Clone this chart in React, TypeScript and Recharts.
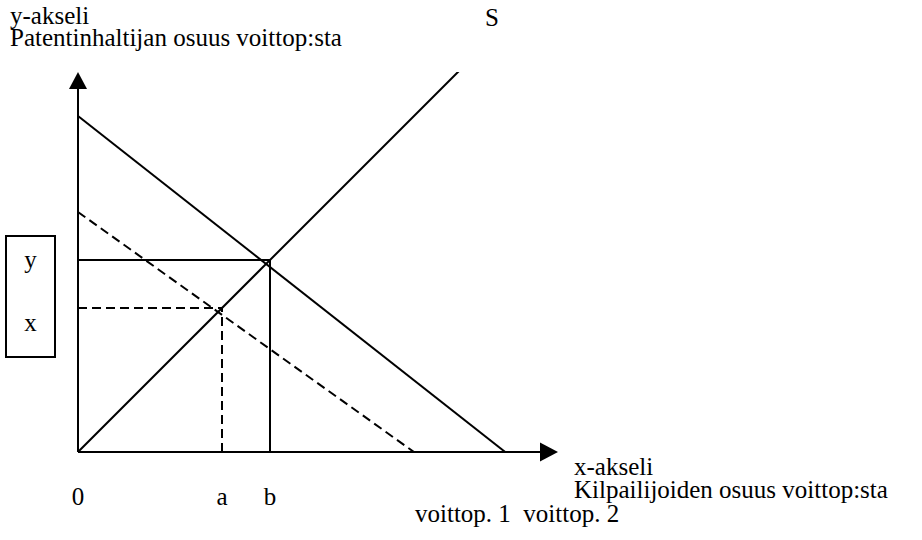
import React from 'react';
import { LineChart, Line, XAxis, YAxis, ReferenceLine, ReferenceDot } from 'recharts';

const FONT = '"Liberation Serif", "Times New Roman", serif';
const FS = 25;

// x-akselin merkinnät
const xTicks = [0, 30, 40];
const xTickLabels = ['0', 'a', 'b'];

// S-käyrä (45 astetta)
const sX = [0, 80];
const sY = [0, 80];
// voittop. 2 (yhtenäinen)
const v2X = [0, 89];
const v2Y = [70, 0];
// voittop. 1 (katkoviiva)
const v1X = [0, 70];
const v1Y = [50, 0];
// tasapainopisteet
const pointA = 30;
const pointB = 40;

const toRows = (xs: number[], ys: number[]) => xs.map((x, i) => ({ x, y: ys[i] }));

const W = 922;
const H = 540;

const ArrowRight = (props: any) => {
  const { cx, cy } = props;
  return <polygon points={`${cx},${cy} ${cx - 18},${cy - 9.5} ${cx - 18},${cy + 9.5}`} fill="#000" />;
};

const ArrowUp = (props: any) => {
  const { cx, cy } = props;
  return <polygon points={`${cx},${cy} ${cx - 9},${cy + 17} ${cx + 9},${cy + 17}`} fill="#000" />;
};

export default function App() {
  const textStyle = { fontFamily: FONT, fontSize: FS, fill: '#000' };
  return (
    <div style={{ position: 'absolute', left: 0, top: 0, width: W, height: H, background: '#fff' }}>
      <LineChart width={W} height={H} margin={{ top: 72, right: 364, left: 78, bottom: 0 }}>
        <XAxis
          type="number"
          dataKey="x"
          domain={[0, 100]}
          ticks={xTicks}
          tickFormatter={(v: number) => xTickLabels[xTicks.indexOf(v)]}
          height={88}
          axisLine={false}
          tickLine={false}
          tickMargin={29}
          tick={{ fontFamily: FONT, fontSize: FS, fill: '#000' }}
          allowDataOverflow
          interval={0}
        />
        <YAxis type="number" domain={[0, 380 / 4.8]} hide allowDataOverflow />

        {/* akselit */}
        <ReferenceLine segment={[{ x: 0, y: 0 }, { x: 96.25, y: 0 }]} stroke="#000" strokeWidth={2} ifOverflow="visible" />
        <ReferenceLine segment={[{ x: 0, y: 0 }, { x: 0, y: 75.6 }]} stroke="#000" strokeWidth={2} ifOverflow="visible" />
        <ReferenceDot x={100} y={0} r={1} shape={ArrowRight} ifOverflow="visible" />
        <ReferenceDot x={0} y={380 / 4.8} r={1} shape={ArrowUp} ifOverflow="visible" />

        {/* apuviivat */}
        <ReferenceLine segment={[{ x: 0, y: pointB }, { x: pointB, y: pointB }]} stroke="#000" strokeWidth={2} ifOverflow="visible" />
        <ReferenceLine segment={[{ x: pointB, y: 0 }, { x: pointB, y: pointB }]} stroke="#000" strokeWidth={2} ifOverflow="visible" />
        <ReferenceLine segment={[{ x: 0, y: pointA }, { x: pointA, y: pointA }]} stroke="#000" strokeWidth={2} strokeDasharray="9 5" ifOverflow="visible" />
        <ReferenceLine segment={[{ x: pointA, y: 0 }, { x: pointA, y: pointA }]} stroke="#000" strokeWidth={2} strokeDasharray="9 5" ifOverflow="visible" />

        <Line data={toRows(sX, sY)} dataKey="y" type="linear" stroke="#000" strokeWidth={2} dot={false} isAnimationActive={false} />
        <Line data={toRows(v2X, v2Y)} dataKey="y" type="linear" stroke="#000" strokeWidth={2} dot={false} isAnimationActive={false} />
        <Line data={toRows(v1X, v1Y)} dataKey="y" type="linear" stroke="#000" strokeWidth={2} strokeDasharray="9 5" dot={false} isAnimationActive={false} />

        {/* tekstit */}
        <text x={10} y={24} style={textStyle}>y-akseli</text>
        <text x={10} y={46} style={textStyle}>Patentinhaltijan osuus voittop:sta</text>
        <text x={492} y={26} textAnchor="middle" style={textStyle}>S</text>
        <rect x={6} y={236} width={49} height={121} fill="none" stroke="#000" strokeWidth={2} />
        <text x={30.5} y={268} textAnchor="middle" style={textStyle}>y</text>
        <text x={30.5} y={331} textAnchor="middle" style={textStyle}>x</text>
        <text x={574} y={475} style={textStyle}>x-akseli</text>
        <text x={574} y={498} style={textStyle}>Kilpailijoiden osuus voittop:sta</text>
        <text x={415} y={522} style={{ ...textStyle, whiteSpace: 'pre' }}>voittop. 1  voittop. 2</text>
      </LineChart>
    </div>
  );
}
